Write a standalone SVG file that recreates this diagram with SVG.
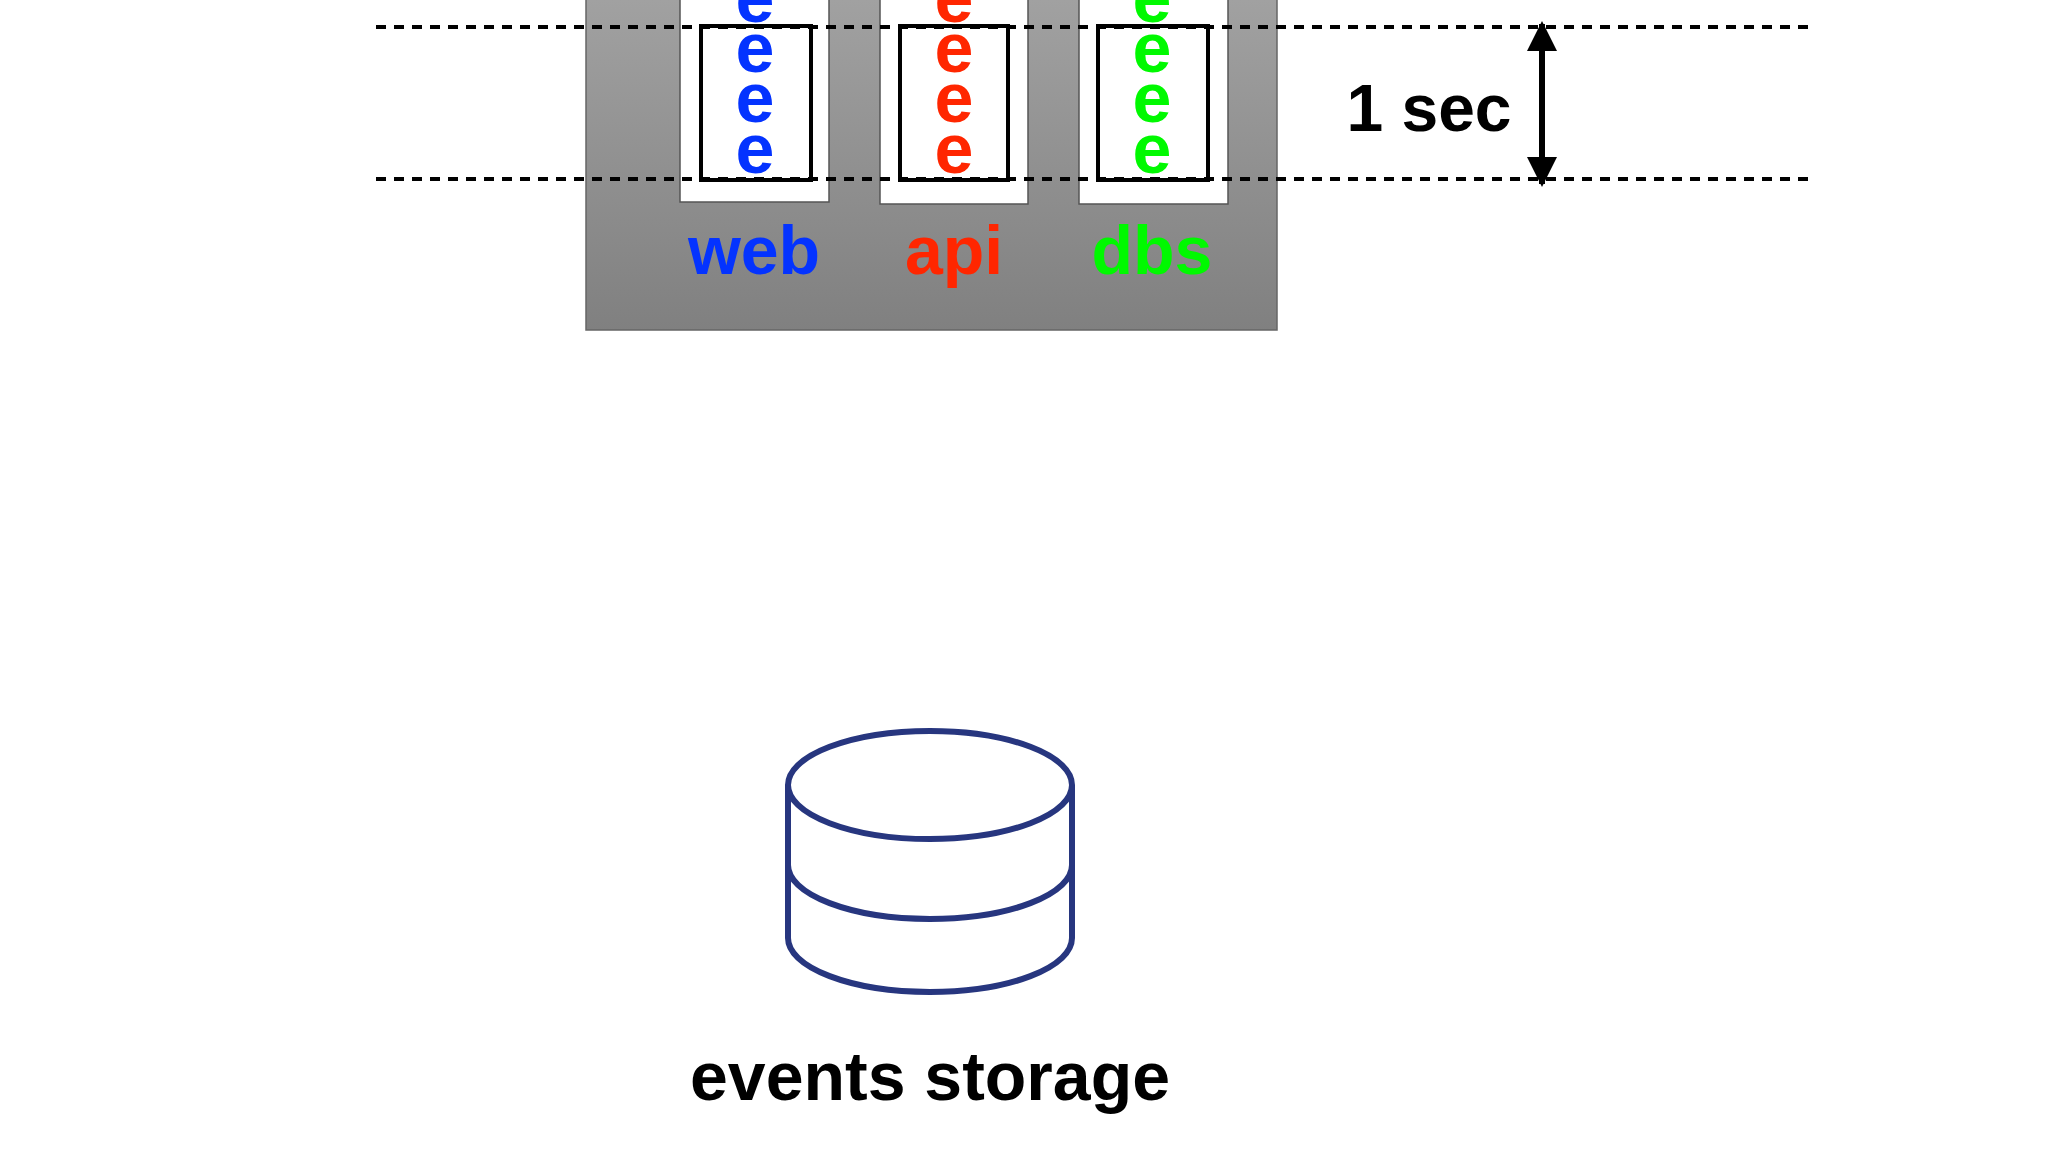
<svg xmlns="http://www.w3.org/2000/svg" width="2048" height="1152" viewBox="0 0 2048 1152">
<defs>
<linearGradient id="g" x1="0" y1="0" x2="0" y2="1"><stop offset="0" stop-color="#a2a2a2"/><stop offset="1" stop-color="#808080"/></linearGradient>
<marker id="ah" viewBox="0 0 10 10" refX="9" refY="5" markerWidth="5" markerHeight="5" orient="auto-start-reverse"><path d="M0,0 L10,5 L0,10 z" fill="#000"/></marker>
</defs>
<style>
text{font-family:"Liberation Sans",Arial,sans-serif;font-weight:bold;text-anchor:middle}
.e{font-size:70px}
.lbl{font-size:68px}
.col{fill:#fff;stroke:#555;stroke-width:1.5}
.in{fill:none;stroke:#000;stroke-width:4}
.dash{stroke:#000;stroke-width:4;stroke-dasharray:10 8}
.b{fill:#0433ff}.r{fill:#ff2600}.gr{fill:#00f900}
.cyl{fill:#fff;stroke:#27367f;stroke-width:6}
</style>
<rect width="2048" height="1152" fill="#fff"/>
<g id="cluster">
<rect x="586" y="-10" width="691" height="340" fill="url(#g)" stroke="#666" stroke-width="1.5"/>
</g>
<g id="web">
<rect class="col" x="680" y="-10" width="149" height="212"/>
<rect class="in" x="701" y="26" width="110" height="154"/>
<text class="e b" x="755" y="22">e</text><text class="e b" x="755" y="72">e</text><text class="e b" x="755" y="122">e</text><text class="e b" x="755" y="173">e</text>
<text class="lbl b" x="754" y="274">web</text>
</g>
<g id="api">
<rect class="col" x="880" y="-10" width="148" height="214"/>
<rect class="in" x="900" y="26" width="108" height="154"/>
<text class="e r" x="954" y="22">e</text><text class="e r" x="954" y="72">e</text><text class="e r" x="954" y="122">e</text><text class="e r" x="954" y="173">e</text>
<text class="lbl r" x="954" y="274">api</text>
</g>
<g id="dbs">
<rect class="col" x="1079" y="-10" width="149" height="214"/>
<rect class="in" x="1098" y="26" width="110" height="154"/>
<text class="e gr" x="1152" y="22">e</text><text class="e gr" x="1152" y="72">e</text><text class="e gr" x="1152" y="122">e</text><text class="e gr" x="1152" y="173">e</text>
<text class="lbl gr" x="1152" y="274">dbs</text>
</g>
<g id="connectors">
<line class="dash" x1="376" y1="27" x2="1813" y2="27"/>
<line class="dash" x1="376" y1="179" x2="1813" y2="179"/>
<line x1="1542" y1="24" x2="1542" y2="184" stroke="#000" stroke-width="6" marker-start="url(#ah)" marker-end="url(#ah)"/>
</g>
<g id="interval">
<text x="1429" y="131" style="font-size:66px">1 sec</text>
</g>
<g id="storage">
<path class="cyl" d="M788,785 V938 A142,54 0 0 0 1072,938 V785"/>
<path class="cyl" d="M788,865 A142,54 0 0 0 1072,865"/>
<ellipse class="cyl" cx="930" cy="785" rx="142" ry="54"/>
<text x="930" y="1100" style="font-size:68px">events storage</text>
</g>
</svg>
